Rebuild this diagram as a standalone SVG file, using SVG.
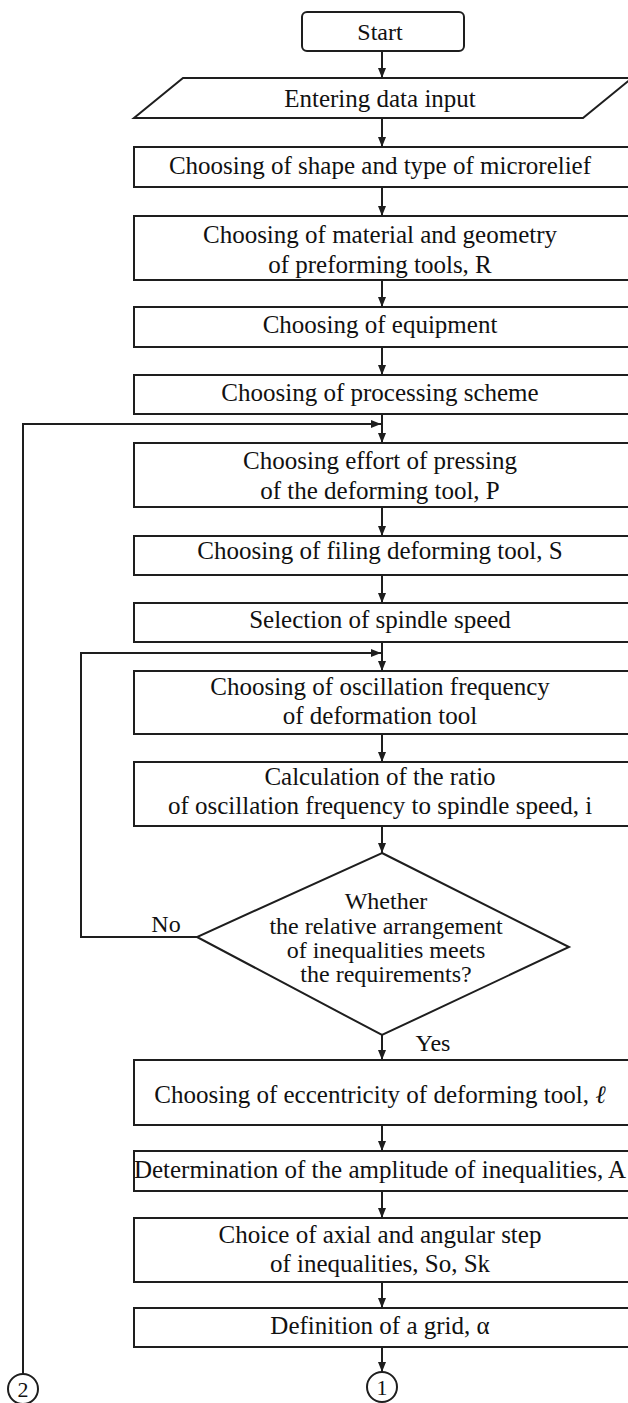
<svg xmlns="http://www.w3.org/2000/svg" width="628" height="1403" viewBox="0 0 628 1403">
<style>
.box{fill:#fff;stroke:#1e1e1e;stroke-width:2}
.ln{fill:none;stroke:#1e1e1e;stroke-width:2}
.t{font-family:"Liberation Serif","Times New Roman",serif;font-size:25px;fill:#111;text-anchor:middle}
.s{font-size:24px}
.c{font-size:22px}
</style>
<defs>
<marker id="ah" markerUnits="userSpaceOnUse" markerWidth="11" markerHeight="9" refX="10" refY="4" orient="auto">
<path d="M0,0 L10,4 L0,8 z" fill="#1e1e1e"/>
</marker>
</defs>
<rect width="628" height="1403" fill="#fff"/>
<g id="connectors">
<line class="ln" x1="382" y1="51" x2="382" y2="78" marker-end="url(#ah)"/>
<line class="ln" x1="382" y1="118" x2="382" y2="147" marker-end="url(#ah)"/>
<line class="ln" x1="382" y1="187" x2="382" y2="216" marker-end="url(#ah)"/>
<line class="ln" x1="382" y1="280" x2="382" y2="307" marker-end="url(#ah)"/>
<line class="ln" x1="382" y1="347" x2="382" y2="375" marker-end="url(#ah)"/>
<line class="ln" x1="382" y1="414" x2="382" y2="443" marker-end="url(#ah)"/>
<line class="ln" x1="382" y1="507" x2="382" y2="536" marker-end="url(#ah)"/>
<line class="ln" x1="382" y1="575" x2="382" y2="603" marker-end="url(#ah)"/>
<line class="ln" x1="382" y1="642" x2="382" y2="671" marker-end="url(#ah)"/>
<line class="ln" x1="382" y1="734" x2="382" y2="762" marker-end="url(#ah)"/>
<line class="ln" x1="382" y1="826" x2="382" y2="853" marker-end="url(#ah)"/>
<line class="ln" x1="382" y1="1035" x2="382" y2="1060" marker-end="url(#ah)"/>
<line class="ln" x1="382" y1="1125" x2="382" y2="1151" marker-end="url(#ah)"/>
<line class="ln" x1="382" y1="1191" x2="382" y2="1218" marker-end="url(#ah)"/>
<line class="ln" x1="382" y1="1282" x2="382" y2="1308" marker-end="url(#ah)"/>
<line class="ln" x1="382" y1="1347" x2="382" y2="1372" marker-end="url(#ah)"/>
<polyline class="ln" points="23,1374 23,424 381,424" marker-end="url(#ah)"/>
<polyline class="ln" points="197,937 81,937 81,653 381,653" marker-end="url(#ah)"/>
<text class="t s" x="166" y="932">No</text>
<text class="t s" x="433" y="1051">Yes</text>
</g>
<g id="start">
<rect class="box" x="302" y="12" width="162" height="39" rx="5"/>
<text class="t s" x="380" y="39.5">Start</text>
</g>
<g id="input">
<polygon class="box" points="183,78 632,78 583,118 134,118"/>
<text class="t" x="380" y="107">Entering data input</text>
</g>
<g id="shape">
<rect class="box" x="134" y="147" width="498" height="40"/>
<text class="t" x="380" y="173.5">Choosing of shape and type of microrelief</text>
</g>
<g id="material">
<rect class="box" x="134" y="216" width="498" height="64"/>
<text class="t" x="380" y="242.7">Choosing of material and geometry</text>
<text class="t" x="380" y="272.7">of preforming tools, R</text>
</g>
<g id="equipment">
<rect class="box" x="134" y="307" width="498" height="40"/>
<text class="t" x="380" y="333.3">Choosing of equipment</text>
</g>
<g id="scheme">
<rect class="box" x="134" y="375" width="498" height="39"/>
<text class="t" x="380" y="401">Choosing of processing scheme</text>
</g>
<g id="effort">
<rect class="box" x="134" y="443" width="498" height="64"/>
<text class="t" x="380" y="469.3">Choosing effort of pressing</text>
<text class="t" x="380" y="498.7">of the deforming tool, P</text>
</g>
<g id="filing">
<rect class="box" x="134" y="536" width="498" height="39"/>
<text class="t" x="380" y="559">Choosing of filing deforming tool, S</text>
</g>
<g id="spindle">
<rect class="box" x="134" y="603" width="498" height="39"/>
<text class="t" x="380" y="628.3">Selection of spindle speed</text>
</g>
<g id="oscillation">
<rect class="box" x="134" y="671" width="498" height="63"/>
<text class="t" x="380" y="695">Choosing of oscillation frequency</text>
<text class="t" x="380" y="724.3">of deformation tool</text>
</g>
<g id="ratio">
<rect class="box" x="134" y="762" width="498" height="64"/>
<text class="t" x="380" y="785">Calculation of the ratio</text>
<text class="t" x="380" y="814.3">of oscillation frequency to spindle speed, i</text>
</g>
<g id="decision">
<polygon class="box" points="382,853 569,947 382,1035 197,937"/>
<text class="t s" x="386" y="909.3">Whether</text>
<text class="t s" x="386" y="934">the relative arrangement</text>
<text class="t s" x="386" y="958.3">of inequalities meets</text>
<text class="t s" x="386" y="981.7">the requirements?</text>
</g>
<g id="eccentricity">
<rect class="box" x="134" y="1060" width="498" height="65"/>
<text class="t" x="380" y="1103.3">Choosing of eccentricity of deforming tool, <tspan font-style="italic">ℓ</tspan></text>
</g>
<g id="amplitude">
<rect class="box" x="134" y="1151" width="498" height="40"/>
<text class="t" x="380" y="1178.3">Determination of the amplitude of inequalities, A</text>
</g>
<g id="step">
<rect class="box" x="134" y="1218" width="498" height="64"/>
<text class="t" x="380" y="1242.7">Choice of axial and angular step</text>
<text class="t" x="380" y="1271.7">of inequalities, So, Sk</text>
</g>
<g id="grid">
<rect class="box" x="134" y="1308" width="498" height="39"/>
<text class="t" x="380" y="1334">Definition of a grid, α</text>
</g>
<g id="connector1">
<circle class="box" cx="382" cy="1387" r="15"/>
<text class="t c" x="382" y="1395">1</text>
</g>
<g id="connector2">
<circle class="box" cx="23" cy="1389" r="15"/>
<text class="t c" x="23" y="1397">2</text>
</g>
</svg>
